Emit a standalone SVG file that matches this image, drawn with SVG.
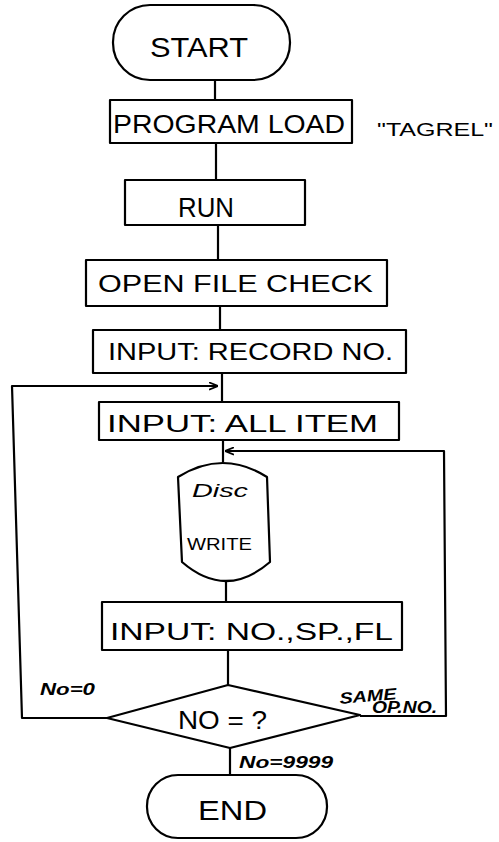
<svg xmlns="http://www.w3.org/2000/svg" width="499" height="842" viewBox="0 0 499 842">
  <style>
    .shape { fill: #fff; stroke: #000; stroke-width: 2.2; stroke-linejoin: round; }
    .wire { fill: none; stroke: #000; stroke-width: 2.2; stroke-linejoin: round; }
    .lbl { font-family: "Liberation Sans", "DejaVu Sans", sans-serif; fill: #000; }
    .big { font-size: 28px; }
    .mid { font-size: 24px; }
    .note { font-size: 16px; font-style: italic; font-weight: bold; }
  </style>
  <defs>
    <marker id="arrow" viewBox="0 0 10 10" refX="10" refY="5" markerWidth="9" markerHeight="9" markerUnits="userSpaceOnUse" orient="auto">
      <path d="M0 1 L10 5 L0 9" fill="none" stroke="#000" stroke-width="2"/>
    </marker>
  </defs>

  <rect width="499" height="842" fill="#fff"/>

  <!-- connectors -->
  <g id="connectors">
    <line class="wire" x1="215" y1="80" x2="215" y2="100"/>
    <line class="wire" x1="216" y1="143" x2="216" y2="180"/>
    <line class="wire" x1="218" y1="225" x2="218" y2="260"/>
    <line class="wire" x1="220" y1="306" x2="220" y2="330"/>
    <line class="wire" x1="222" y1="373" x2="222" y2="402"/>
    <line class="wire" x1="223" y1="440" x2="223" y2="462"/>
    <line class="wire" x1="226" y1="582" x2="226" y2="602"/>
    <line class="wire" x1="228" y1="650" x2="228" y2="685"/>
    <line class="wire" x1="230" y1="748" x2="230" y2="775"/>
    <!-- NO = 0 : back to record entry -->
    <path class="wire" d="M107 718 L22 718 L12 386 L218 386" marker-end="url(#arrow)"/>
    <!-- same op. no. : back to disc write -->
    <path class="wire" d="M360 716 L446 716 L444 451 L225 451" marker-end="url(#arrow)"/>
  </g>

  <g id="start">
    <rect class="shape" x="113" y="5" width="177" height="75" rx="37" ry="37"/>
    <text class="lbl big" x="150" y="57" textLength="98" lengthAdjust="spacingAndGlyphs">START</text>
  </g>

  <g id="program-load">
    <rect class="shape" x="110" y="100" width="242" height="43"/>
    <text class="lbl" x="113" y="133" font-size="26" textLength="232" lengthAdjust="spacingAndGlyphs">PROGRAM LOAD</text>
    <text class="lbl" x="377" y="136" font-size="19" textLength="116" lengthAdjust="spacingAndGlyphs">"TAGREL"</text>
  </g>

  <g id="run">
    <rect class="shape" x="125" y="180" width="180" height="45"/>
    <text class="lbl big" x="178" y="217" textLength="56" lengthAdjust="spacingAndGlyphs">RUN</text>
  </g>

  <g id="open-file-check">
    <rect class="shape" x="86" y="260" width="301" height="46"/>
    <text class="lbl mid" x="98" y="292" textLength="275" lengthAdjust="spacingAndGlyphs">OPEN FILE CHECK</text>
  </g>

  <g id="input-record">
    <rect class="shape" x="93" y="330" width="313" height="43"/>
    <text class="lbl mid" x="108" y="360" textLength="285" lengthAdjust="spacingAndGlyphs">INPUT: RECORD NO.</text>
  </g>

  <g id="input-all-item">
    <rect class="shape" x="99" y="402" width="300" height="38"/>
    <text class="lbl mid" x="107" y="432" textLength="271" lengthAdjust="spacingAndGlyphs">INPUT: ALL ITEM</text>
  </g>

  <g id="disc-write">
    <path class="shape" d="M178 477 Q223 449 267 477 L270 562 Q226 600 182 562 Z"/>
    <text class="lbl" x="192" y="497" font-size="18" font-style="italic" textLength="56" lengthAdjust="spacingAndGlyphs">Disc</text>
    <text class="lbl" x="187" y="550" font-size="17" textLength="65" lengthAdjust="spacingAndGlyphs">WRITE</text>
  </g>

  <g id="input-no-sp-fl">
    <rect class="shape" x="102" y="602" width="300" height="48"/>
    <text class="lbl mid" x="110" y="640" textLength="283" lengthAdjust="spacingAndGlyphs">INPUT: NO.,SP.,FL</text>
  </g>

  <g id="decision">
    <path class="shape" d="M228 685 L360 715 L230 748 L107 718 Z"/>
    <text class="lbl" x="178" y="729" font-size="25" textLength="89" lengthAdjust="spacingAndGlyphs">NO = ?</text>
    <text class="lbl note" x="40" y="695" textLength="55" lengthAdjust="spacingAndGlyphs">No=0</text>
    <text class="lbl note" x="340" y="704" transform="rotate(-5 340 704)" textLength="57" lengthAdjust="spacingAndGlyphs">SAME</text>
    <text class="lbl note" x="372" y="713" font-size="13" textLength="65" lengthAdjust="spacingAndGlyphs">OP.NO.</text>
    <text class="lbl note" x="239" y="768" font-size="18" textLength="94" lengthAdjust="spacingAndGlyphs">No=9999</text>
  </g>

  <g id="end">
    <rect class="shape" x="147" y="775" width="180" height="63" rx="31" ry="31"/>
    <text class="lbl big" x="198" y="820" textLength="69" lengthAdjust="spacingAndGlyphs">END</text>
  </g>
</svg>
